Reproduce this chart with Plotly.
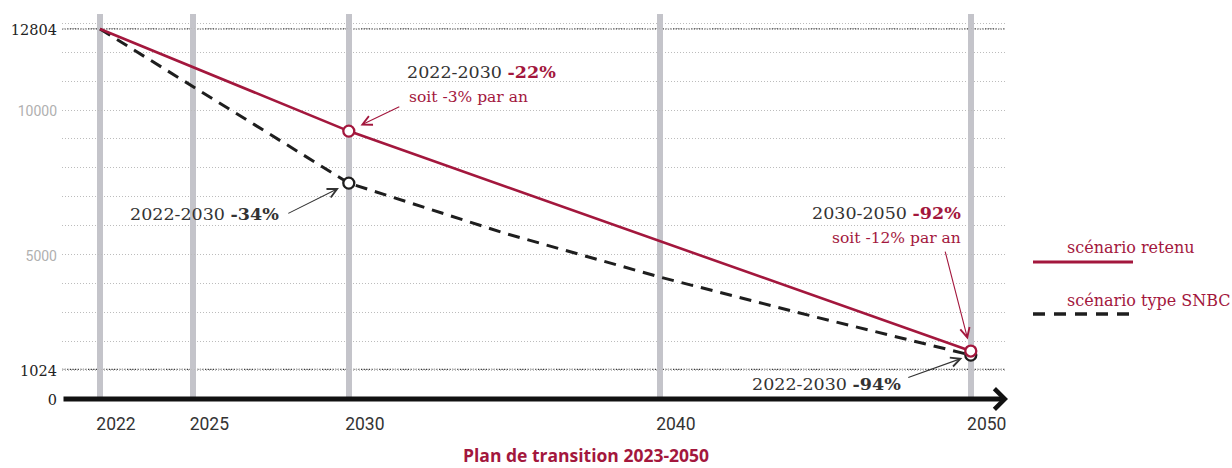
import plotly.graph_objects as go

# ---------------- data ----------------
years_retenu = [2022, 2030, 2050]
values_retenu = [12804, 9270, 1660]

years_snbc = [2022, 2030, 2035, 2040, 2045, 2050]
values_snbc = [12804, 7470, 5740, 4220, 2840, 1520]

x_tick_years = [2022, 2025, 2030, 2040, 2050]
y_tick_values = [0, 1024, 5000, 10000, 12804]
y_tick_strong = [True, True, False, False, True]
reference_levels = [12804, 1024]

legend_labels = ["scénario retenu", "scénario type SNBC"]
title_text = "Plan de transition 2023-2050"

# ---------------- style ----------------
RED = "#a3173d"
BLACK = "#1e1e1e"
TXT = "#333333"
W, H = 1232, 468
L, R, T, B = 62, 227, 14, 69
X_RANGE = [2020.778, 2051.1]
Y_RANGE = [0, 13322]
SERIF = "DejaVu Serif"

def px_x(p):
    return (p - L) / (W - L - R)

def px_y(p):
    return (H - B - p) / (H - T - B)

fig = go.Figure()

# SNBC dashed line
fig.add_trace(go.Scatter(x=years_snbc, y=values_snbc, mode="lines",
                         line=dict(color=BLACK, width=3, dash="12px,8px"),
                         hoverinfo="skip", showlegend=False))
# retained scenario line
fig.add_trace(go.Scatter(x=years_retenu, y=values_retenu, mode="lines",
                         line=dict(color=RED, width=2.6),
                         hoverinfo="skip", showlegend=False))

# markers at 2030 and 2050
snbc_idx = [years_snbc.index(y) for y in (2030, 2050)]
ret_idx = [years_retenu.index(y) for y in (2030, 2050)]
fig.add_trace(go.Scatter(x=[years_snbc[i] for i in snbc_idx],
                         y=[values_snbc[i] for i in snbc_idx], mode="markers",
                         marker=dict(size=11, color="white", line=dict(color=BLACK, width=2.3)),
                         hoverinfo="skip", showlegend=False))
fig.add_trace(go.Scatter(x=[years_retenu[i] for i in ret_idx],
                         y=[values_retenu[i] for i in ret_idx], mode="markers",
                         marker=dict(size=11, color="white", line=dict(color=RED, width=2.3)),
                         hoverinfo="skip", showlegend=False))

# y tick labels
ytext = []
for v, strong in zip(y_tick_values, y_tick_strong):
    if strong:
        ytext.append(f'<span style="font-family:{SERIF};font-size:14.5px;color:#222">{v}</span>')
    else:
        ytext.append(f'<span style="font-family:Roboto;font-size:14px;color:#b0b0b0">{v}</span>')

shapes = []
for lv in reference_levels:
    shapes.append(dict(type="line", xref="paper", yref="y", x0=0, x1=1, y0=lv, y1=lv,
                       line=dict(color="#3a3a3a", width=1.3, dash="1.3px,1.3px"), layer="below"))
# legend samples
shapes.append(dict(type="line", xref="paper", yref="paper", x0=px_x(1033), x1=px_x(1133),
                   y0=px_y(262), y1=px_y(262), line=dict(color=RED, width=3)))
shapes.append(dict(type="line", xref="paper", yref="paper", x0=px_x(1033), x1=px_x(1133),
                   y0=px_y(314), y1=px_y(314), line=dict(color=BLACK, width=3.5, dash="12px,9px")))

ann = []
# x axis arrow
ann.append(dict(x=px_x(1008), y=0, xref="paper", yref="y", axref="pixel", ayref="pixel",
                ax=-(1008 - L), ay=0, showarrow=True, arrowhead=4, arrowsize=0.8,
                arrowwidth=5, arrowcolor="#111111", text=""))

def txt(x, y, s, xanchor, xs, ys, size, color=TXT):
    ann.append(dict(x=x, y=y, xref="x", yref="y", text=s, showarrow=False,
                    xanchor=xanchor, yanchor="middle", xshift=xs, yshift=ys,
                    font=dict(family=SERIF, size=size, color=color)))

def arrow(x, y, ax, ay, color, standoff):
    ann.append(dict(x=x, y=y, xref="x", yref="y", ax=ax, ay=ay, text="",
                    showarrow=True, arrowhead=5, arrowsize=1.7, arrowwidth=1.1,
                    arrowcolor=color, standoff=standoff))

r30 = values_retenu[years_retenu.index(2030)]
r50 = values_retenu[years_retenu.index(2050)]
s30 = values_snbc[years_snbc.index(2030)]
s50 = values_snbc[years_snbc.index(2050)]

txt(2030, r30, f'2022-2030 <b><span style="color:{RED}">-22%</span></b>', "left", 56, 59, 17.5)
txt(2030, r30, "soit -3% par an", "left", 58, 34, 15.5, RED)
arrow(2030, r30, 52, -25, RED, 13)

txt(2030, s30, '2022-2030 <b>-34%</b>', "right", -68, -31, 17.5)
arrow(2030, s30, -62, 31, "#333333", 11)

txt(2050, r50, f'2030-2050 <b><span style="color:{RED}">-92%</span></b>', "right", -8, 138, 17.5)
txt(2050, r50, "soit -12% par an", "right", -8, 113, 15.5, RED)
arrow(2050, r50, -26, -101, RED, 12)

txt(2050, s50, '2022-2030 <b>-94%</b>', "right", -68, -29, 17.5)
arrow(2050, s50, -64, 23, "#333333", 9)

# legend labels
for lab, py in zip(legend_labels, (247, 300)):
    ann.append(dict(x=px_x(1065), y=px_y(py), xref="paper", yref="paper", text=lab,
                    showarrow=False, xanchor="left", yanchor="middle",
                    font=dict(family=SERIF, size=16, color=RED)))

# chart title (below the axis)
ann.append(dict(x=px_x(586), y=px_y(455), xref="paper", yref="paper",
                text=f"<b>{title_text}</b>", showarrow=False,
                xanchor="center", yanchor="middle", borderpad=0,
                font=dict(family="Open Sans", size=17.5, color=RED)))

fig.update_layout(
    width=W, height=H,
    margin=dict(l=L, r=R, t=T, b=B, pad=0),
    paper_bgcolor="white", plot_bgcolor="white",
    shapes=shapes, annotations=ann,
    xaxis=dict(range=X_RANGE, tickvals=x_tick_years, ticktext=[str(y) for y in x_tick_years],
               showgrid=True, gridcolor="#c4c4ca", gridwidth=6, zeroline=False,
               showline=False, ticks="", ticklabelstandoff=12, ticklabelshift=16,
               tickfont=dict(family="Roboto", size=17.5, color=TXT), fixedrange=True),
    yaxis=dict(range=Y_RANGE, tickvals=y_tick_values, ticktext=ytext,
               showgrid=True, gridcolor="#bcbcbc", gridwidth=1, griddash="1px,2px",
               minor=dict(tick0=0, dtick=1000, showgrid=True, gridcolor="#bcbcbc",
                          gridwidth=1, griddash="1px,2px"),
               zeroline=False, showline=False, ticks="", ticklabelstandoff=4,
               ticklabelshift=2, fixedrange=True),
)

fig.write_html("out.html", config={"displayModeBar": False},
               post_script="document.body.style.margin='0';document.body.style.overflow='hidden';")
